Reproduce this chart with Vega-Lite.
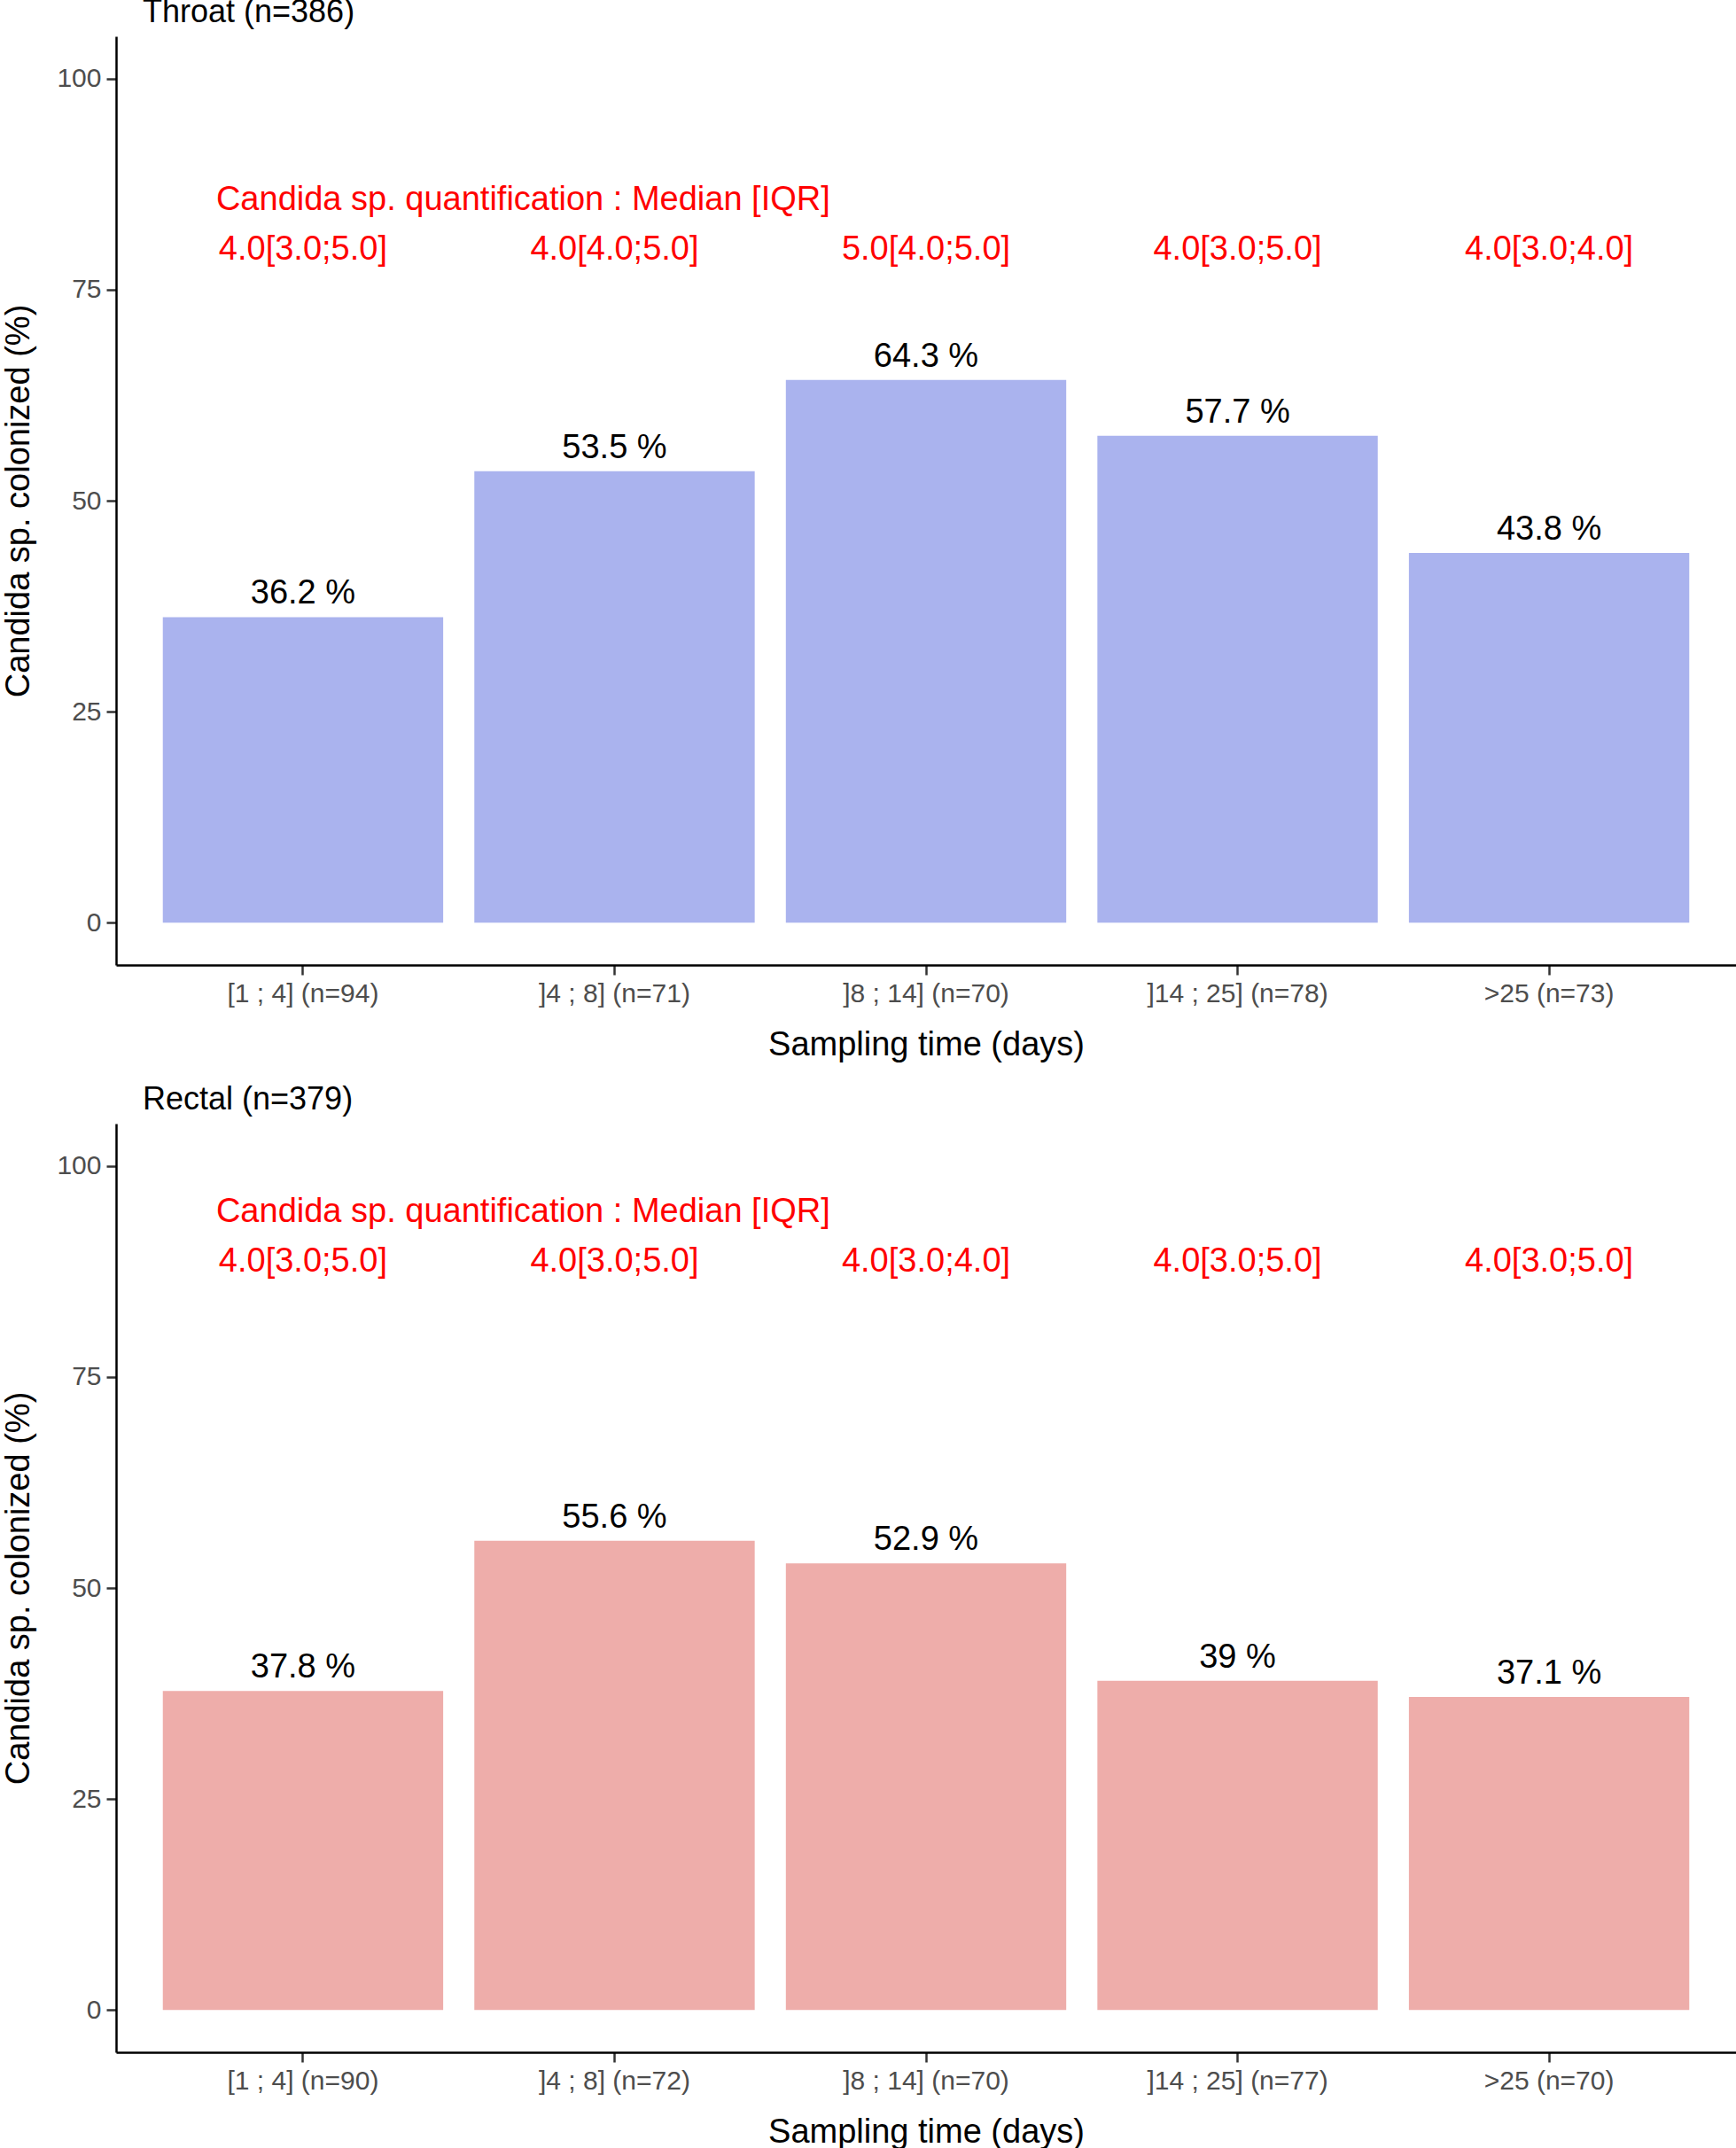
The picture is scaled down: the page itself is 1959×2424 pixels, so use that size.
{
  "$schema": "https://vega.github.io/schema/vega-lite/v6.json",
  "background": "white",
  "padding": {"top": -4, "left": 2, "right": 0, "bottom": 0},
  "config": {
    "view": {"stroke": null},
    "font": "Liberation Sans",
    "axis": {
      "grid": false,
      "domainColor": "black",
      "domainWidth": 2.5,
      "tickColor": "#333333",
      "tickWidth": 2.5,
      "tickSize": 11,
      "labelColor": "#4D4D4D",
      "labelFont": "Liberation Sans",
      "labelFontSize": 30,
      "labelPadding": 6,
      "labelLimit": 0,
      "titleFont": "Liberation Sans",
      "titleFontSize": 38,
      "titleFontWeight": "normal",
      "titleColor": "black"
    },
    "title": {"font": "Liberation Sans", "fontSize": 36, "fontWeight": "normal", "color": "black", "anchor": "start", "frame": "group", "dx": 30, "offset": 8},
    "concat": {"spacing": 25}
  },
  "datasets": {
    "throat": [
      {"cat": "[1 ; 4] (n=94)", "pct": 36.2, "lab": "36.2 %", "med": "4.0[3.0;5.0]"},
      {"cat": "]4 ; 8] (n=71)", "pct": 53.5, "lab": "53.5 %", "med": "4.0[4.0;5.0]"},
      {"cat": "]8 ; 14] (n=70)", "pct": 64.3, "lab": "64.3 %", "med": "5.0[4.0;5.0]"},
      {"cat": "]14 ; 25] (n=78)", "pct": 57.7, "lab": "57.7 %", "med": "4.0[3.0;5.0]"},
      {"cat": ">25 (n=73)", "pct": 43.8, "lab": "43.8 %", "med": "4.0[3.0;4.0]"}
    ],
    "rectal": [
      {"cat": "[1 ; 4] (n=90)", "pct": 37.8, "lab": "37.8 %", "med": "4.0[3.0;5.0]"},
      {"cat": "]4 ; 8] (n=72)", "pct": 55.6, "lab": "55.6 %", "med": "4.0[3.0;5.0]"},
      {"cat": "]8 ; 14] (n=70)", "pct": 52.9, "lab": "52.9 %", "med": "4.0[3.0;4.0]"},
      {"cat": "]14 ; 25] (n=77)", "pct": 39.0, "lab": "39 %", "med": "4.0[3.0;5.0]"},
      {"cat": ">25 (n=70)", "pct": 37.1, "lab": "37.1 %", "med": "4.0[3.0;5.0]"}
    ]
  },
  "vconcat": [
    {
      "title": "Throat (n=386)",
      "width": 1828,
      "height": 1048,
      "layer": [
        {"data": {"name": "throat"}, "mark": {"type": "bar", "color": "#AAB3EE"},
         "encoding": {
          "x": {"field": "cat", "type": "nominal", "sort": null, "title": "Sampling time (days)",
                "scale": {"paddingInner": 0.1, "paddingOuter": 0.15},
                "axis": {"labelAngle": 0, "titlePadding": 24}},
          "y": {"field": "pct", "type": "quantitative", "title": "Candida sp. colonized (%)",
                "scale": {"domain": [-5, 105], "nice": false, "zero": false},
                "axis": {"values": [0, 25, 50, 75, 100], "titlePadding": 23}}
         }},
        {"data": {"name": "throat"}, "mark": {"type": "text", "fontSize": 38, "color": "black", "baseline": "alphabetic", "dy": -15},
         "encoding": {"x": {"field": "cat", "type": "nominal", "sort": null}, "y": {"field": "pct", "type": "quantitative"}, "text": {"field": "lab"}}},
        {"data": {"name": "throat"}, "mark": {"type": "text", "fontSize": 38, "color": "#FF0000", "baseline": "middle"},
         "encoding": {"x": {"field": "cat", "type": "nominal", "sort": null}, "y": {"datum": 79.7}, "text": {"field": "med"}}},
        {"data": {"values": [{"cat": "[1 ; 4] (n=94)", "head": "Candida sp. quantification : Median [IQR]"}]},
         "mark": {"type": "text", "fontSize": 38, "color": "#FF0000", "baseline": "middle", "align": "left", "dx": -98},
         "encoding": {"x": {"field": "cat", "type": "nominal", "sort": null}, "y": {"datum": 85.6}, "text": {"field": "head", "type": "nominal"}}}
      ]
    },
    {
      "title": "Rectal (n=379)",
      "width": 1828,
      "height": 1048,
      "layer": [
        {"data": {"name": "rectal"}, "mark": {"type": "bar", "color": "#EEADAA"},
         "encoding": {
          "x": {"field": "cat", "type": "nominal", "sort": null, "title": "Sampling time (days)",
                "scale": {"paddingInner": 0.1, "paddingOuter": 0.15},
                "axis": {"labelAngle": 0, "titlePadding": 24}},
          "y": {"field": "pct", "type": "quantitative", "title": "Candida sp. colonized (%)",
                "scale": {"domain": [-5, 105], "nice": false, "zero": false},
                "axis": {"values": [0, 25, 50, 75, 100], "titlePadding": 23}}
         }},
        {"data": {"name": "rectal"}, "mark": {"type": "text", "fontSize": 38, "color": "black", "baseline": "alphabetic", "dy": -15},
         "encoding": {"x": {"field": "cat", "type": "nominal", "sort": null}, "y": {"field": "pct", "type": "quantitative"}, "text": {"field": "lab"}}},
        {"data": {"name": "rectal"}, "mark": {"type": "text", "fontSize": 38, "color": "#FF0000", "baseline": "middle"},
         "encoding": {"x": {"field": "cat", "type": "nominal", "sort": null}, "y": {"datum": 88.6}, "text": {"field": "med"}}},
        {"data": {"values": [{"cat": "[1 ; 4] (n=90)", "head": "Candida sp. quantification : Median [IQR]"}]},
         "mark": {"type": "text", "fontSize": 38, "color": "#FF0000", "baseline": "middle", "align": "left", "dx": -98},
         "encoding": {"x": {"field": "cat", "type": "nominal", "sort": null}, "y": {"datum": 94.5}, "text": {"field": "head", "type": "nominal"}}}
      ]
    }
  ]
}
